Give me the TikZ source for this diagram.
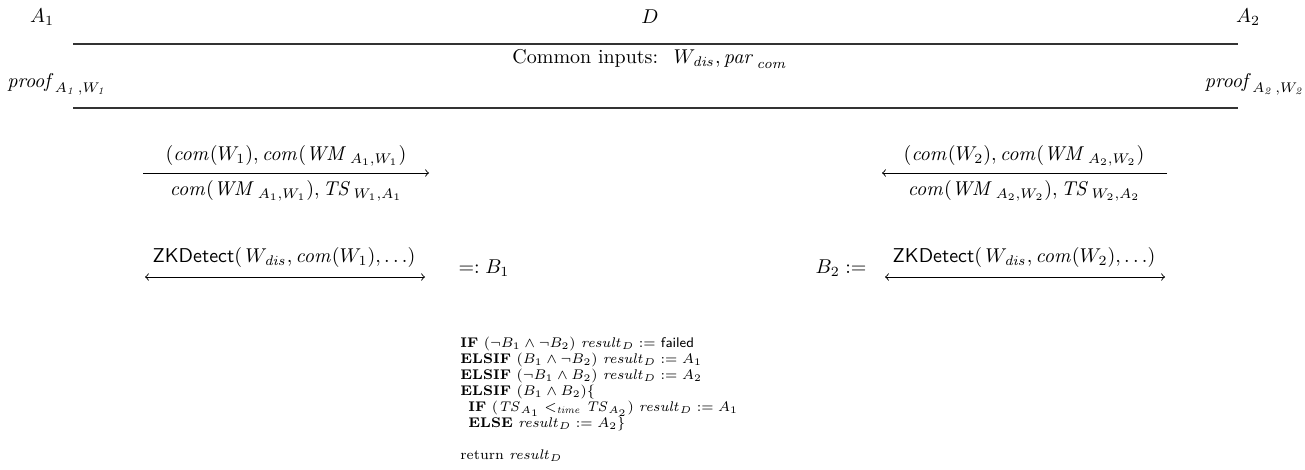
\documentclass[tikz,border=0pt]{standalone}
\usepackage{amsmath,amssymb}
\begin{document}
\begin{tikzpicture}[x=0.5pt,y=-0.5pt,
  lbl/.style={inner sep=0pt,font=\normalsize},
  rule/.style={line width=0.6pt,draw=black!80},
  msg/.style={line width=0.45pt}]
\useasboundingbox (0,0) rectangle (1305,470);
% parties
\node[lbl] (a1) at (42,17) {$A_1$};
\node[lbl] (d) at (650,17) {$D$};
\node[lbl] (a2) at (1248,17) {$A_2$};
% rules
\coordinate (l1a) at (73,44); \coordinate (l1b) at (1238,44);
\coordinate (l2a) at (73,108); \coordinate (l2b) at (1238,108);
\draw[rule] (l1a) -- (l1b);
\draw[rule] (l2a) -- (l2b);
\node[lbl] (common) at (650,59) {Common inputs: \ $W_{\mathit{dis}}, \mathit{par}_{\,\mathit{com}}$};
\node[lbl,anchor=west] (p1) at (7,84) {$\mathit{proof}_{A_{\mathit{1}}\,,W_{\mathit{1}}}$};
\node[lbl,anchor=east] (p2) at (1305,84) {$\mathit{proof}_{A_{\mathit{2}}\,,W_{\mathit{2}}}$};
% first messages
\coordinate (m1a) at (143,173); \coordinate (m1b) at (429,173);
\draw[msg,->] (m1a) -- (m1b);
\node[lbl] (m1t) at (286,156) {$(\mathit{com}(W_1), \mathit{com}(\mathit{WM}_{\,A_1,W_1})$};
\node[lbl] (m1u) at (286,191) {$\mathit{com}(\mathit{WM}_{\,A_1,W_1}), \mathit{TS}_{\,W_1,A_1}$};
\coordinate (m2a) at (1167,173); \coordinate (m2b) at (882,173);
\draw[msg,->] (m2a) -- (m2b);
\node[lbl] (m2t) at (1024,156) {$(\mathit{com}(W_2), \mathit{com}(\mathit{WM}_{\,A_2,W_2})$};
\node[lbl] (m2u) at (1024,191) {$\mathit{com}(\mathit{WM}_{\,A_2,W_2}), \mathit{TS}_{\,W_2,A_2}$};
% ZKDetect
\coordinate (z1a) at (145,277); \coordinate (z1b) at (425,277);
\draw[msg,<->] (z1a) -- (z1b);
\node[lbl] (z1t) at (284,258) {\textsf{ZKDetect}$(\,W_{\mathit{dis}}, \mathit{com}(W_1), \ldots)$};
\coordinate (z2a) at (885,277); \coordinate (z2b) at (1165,277);
\draw[msg,<->] (z2a) -- (z2b);
\node[lbl] (z2t) at (1024,258) {\textsf{ZKDetect}$(\,W_{\mathit{dis}}, \mathit{com}(W_2), \ldots)$};
\node[lbl] (b1) at (484,268) {$=: B_1$};
\node[lbl] (b2) at (841,268) {$B_2 :=$};
% decision
\node[lbl,font=\scriptsize,anchor=north west,align=left] (alg) at (460,337) {%
\textbf{IF} $(\neg B_1 \wedge \neg B_2)$ $\mathit{result}_D :=$ \textsf{failed}\\
\textbf{ELSIF} $(B_1 \wedge \neg B_2)$ $\mathit{result}_D := A_1$\\
\textbf{ELSIF} $(\neg B_1 \wedge B_2)$ $\mathit{result}_D := A_2$\\
\textbf{ELSIF} $(B_1 \wedge B_2)\{$\\
\hspace{4pt}\textbf{IF} $(\mathit{TS}_{A_1} <_{\mathit{time}} \mathit{TS}_{A_2})$ $\mathit{result}_D := A_1$\\
\hspace{4pt}\textbf{ELSE} $\mathit{result}_D := A_2\}$\\[8pt]
return $\mathit{result}_D$};
\end{tikzpicture}
\end{document}
